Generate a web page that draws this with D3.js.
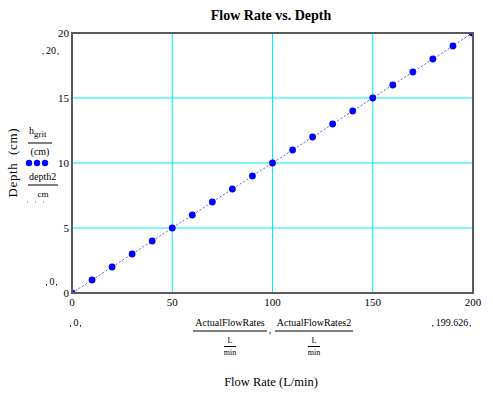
<!DOCTYPE html>
<html>
<head>
<meta charset="utf-8">
<script src="https://cdn.jsdelivr.net/npm/d3@7"></script>
<style>
  body { margin: 0; background: #fff; }
  text { font-family: "Liberation Serif", "Times New Roman", serif; fill: #000; }
</style>
</head>
<body>
<div id="chart"></div>
<script>
// Data
const flowRates = [0, 10, 20, 30, 40, 50, 60, 70, 80, 90, 100, 110, 120, 130, 140, 150, 160, 170, 180, 190, 199.626];
const hGrit = [0, 1, 2, 3, 4, 5, 6, 7, 8, 9, 10, 11, 12, 13, 14, 15, 16, 17, 18, 19, 20];
const flowRates2 = [0, 10, 20, 30, 40, 50, 60, 70, 80, 90, 100, 110, 120, 130, 140, 150, 160, 170, 180, 190, 199.626];
const depth2 = [0, 1, 2, 3, 4, 5, 6, 7, 8, 9, 10, 11, 12, 13, 14, 15, 16, 17, 18, 19, 20];
const xTicks = [0, 50, 100, 150, 200];
const yTicks = [0, 5, 10, 15, 20];
const xGrid = [50, 100, 150];
const yGrid = [5, 10, 15];
const xLimits = ["0", "199.626"];
const yLimits = ["0", "20"];

const W = 493, H = 400;
const svg = d3.select("#chart").append("svg")
  .attr("width", W).attr("height", H);

// Scales
const x = d3.scaleLinear().domain([0, 200]).range([72, 473]);
const y = d3.scaleLinear().domain([0, 20]).range([293, 33]);

svg.append("defs").append("clipPath").attr("id", "plot-clip")
  .append("rect")
  .attr("x", x(0)).attr("y", y(20))
  .attr("width", x(200) - x(0)).attr("height", y(0) - y(20));

// Grid lines
svg.selectAll(".gx").data(xGrid).join("line")
  .attr("x1", d => x(d)).attr("x2", d => x(d))
  .attr("y1", y(20)).attr("y2", y(0))
  .attr("stroke", "#00eef2").attr("stroke-width", 1);
svg.selectAll(".gy").data(yGrid).join("line")
  .attr("x1", x(0)).attr("x2", x(200))
  .attr("y1", d => y(d)).attr("y2", d => y(d))
  .attr("stroke", "#00eef2").attr("stroke-width", 1);

// Series
const pts1 = flowRates.map((f, i) => ({ f: f, d: hGrit[i] }));
const pts2 = flowRates2.map((f, i) => ({ f: f, d: depth2[i] }));

const plot = svg.append("g").attr("clip-path", "url(#plot-clip)");

const line = d3.line().x(d => x(d.f)).y(d => y(d.d));
plot.append("path")
  .datum(pts2)
  .attr("d", line)
  .attr("fill", "none")
  .attr("stroke", "#5a5aff")
  .attr("stroke-width", 1)
  .attr("stroke-dasharray", "2,2");

plot.selectAll("circle").data(pts1).join("circle")
  .attr("cx", d => x(d.f)).attr("cy", d => y(d.d))
  .attr("r", 3.4)
  .attr("fill", "#0000ff");

// Frame
svg.append("rect")
  .attr("x", x(0)).attr("y", y(20))
  .attr("width", x(200) - x(0)).attr("height", y(0) - y(20))
  .attr("fill", "none").attr("stroke", "#5a5a5a").attr("stroke-width", 2);

// Tick labels
svg.selectAll(".ytl").data(yTicks).join("text")
  .attr("x", 69).attr("y", d => y(d)).attr("dy", "0.35em")
  .attr("text-anchor", "end").style("font-size", "11px")
  .text(d => d);
svg.selectAll(".xtl").data(xTicks).join("text")
  .attr("x", d => x(d)).attr("y", 306)
  .attr("text-anchor", "middle").style("font-size", "11px")
  .text(d => d);

// Axis limit markers
function limitMark(cx, by, label) {
  const t = svg.append("text")
    .attr("x", cx).attr("y", by)
    .attr("text-anchor", "middle").style("font-size", "10px")
    .text(label);
  const w = t.node().getComputedTextLength();
  svg.append("path")
    .attr("d", `M${cx - w / 2 - 3},${by - 1}v1.5 M${cx + w / 2 + 2},${by - 1}v1.5`)
    .attr("stroke", "#000").attr("stroke-width", 1);
}
limitMark(51, 54, yLimits[1]);
limitMark(52, 285, yLimits[0]);
limitMark(76, 326, xLimits[0]);
limitMark(452, 326, xLimits[1]);

// Title
svg.append("text")
  .attr("x", 271).attr("y", 20)
  .attr("text-anchor", "middle")
  .style("font-size", "14px").style("font-weight", "bold")
  .text("Flow Rate vs. Depth");

// X axis label
svg.append("text")
  .attr("x", 271).attr("y", 386)
  .attr("text-anchor", "middle").style("font-size", "12.5px")
  .text("Flow Rate (L/min)");

// Y axis label
svg.append("text")
  .attr("transform", "translate(17,163) rotate(-90)")
  .attr("text-anchor", "middle").style("font-size", "13px")
  .style("white-space", "pre")
  .attr("textLength", 69)
  .text("Depth  (cm)");

// X expression: fractions
function fraction(cx, top, topW) {
  svg.append("text").attr("x", cx).attr("y", 326)
    .attr("text-anchor", "middle").style("font-size", "10px").text(top);
  svg.append("line").attr("x1", cx - topW / 2).attr("x2", cx + topW / 2)
    .attr("y1", 331).attr("y2", 331).attr("stroke", "#000");
  svg.append("text").attr("x", cx).attr("y", 343)
    .attr("text-anchor", "middle").style("font-size", "8px").text("L");
  svg.append("line").attr("x1", cx - 6).attr("x2", cx + 6)
    .attr("y1", 346.5).attr("y2", 346.5).attr("stroke", "#000");
  svg.append("text").attr("x", cx).attr("y", 355)
    .attr("text-anchor", "middle").style("font-size", "8px").text("min");
}
fraction(230, "ActualFlowRates", 74);
fraction(314, "ActualFlowRates2", 78);
svg.append("text").attr("x", 270).attr("y", 333)
  .attr("text-anchor", "middle").style("font-size", "10px").text(",");

// Y legend expression
const lg = svg.append("g");
lg.append("text").attr("x", 29).attr("y", 134).style("font-size", "10px").text("h");
lg.append("text").attr("x", 34).attr("y", 137).style("font-size", "9px").text("grit");
lg.append("line").attr("x1", 28).attr("x2", 52).attr("y1", 143).attr("y2", 143).attr("stroke", "#000");
lg.append("text").attr("x", 40).attr("y", 155).attr("text-anchor", "middle").style("font-size", "10px").text("(cm)");
lg.selectAll("circle").data([29, 37, 45]).join("circle")
  .attr("cx", d => d).attr("cy", 163).attr("r", 3.2).attr("fill", "#0000ff");
lg.append("text").attr("x", 29).attr("y", 180).style("font-size", "10px").text("depth2");
lg.append("line").attr("x1", 28).attr("x2", 58).attr("y1", 185).attr("y2", 185).attr("stroke", "#000");
lg.append("text").attr("x", 43).attr("y", 197).attr("text-anchor", "middle").style("font-size", "9px").text("cm");
lg.append("line").attr("x1", 27).attr("x2", 48).attr("y1", 202).attr("y2", 202)
  .attr("stroke", "#5a5aff").attr("stroke-dasharray", "1,7");
</script>
</body>
</html>
